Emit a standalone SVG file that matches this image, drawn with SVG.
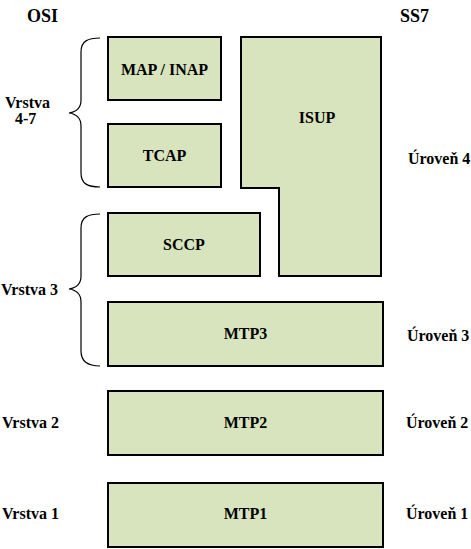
<svg xmlns="http://www.w3.org/2000/svg" width="471" height="549" viewBox="0 0 471 549">
<style>
.box{fill:#d7e4bd;stroke:#000;stroke-width:2}
.t{font-family:"Liberation Serif",serif;font-weight:bold;font-size:16px;fill:#000}
.c{text-anchor:middle}
.h{font-size:18px}
.br{fill:none;stroke:#000;stroke-width:1.2}
</style>
<rect width="471" height="549" fill="#fff"/>
<text class="t h" x="27" y="22">OSI</text>
<text class="t h" x="400" y="22">SS7</text>
<g id="map"><rect class="box" x="108" y="37" width="113" height="63"/><text class="t c" x="164.5" y="75">MAP / INAP</text></g>
<g id="tcap"><rect class="box" x="108" y="124" width="113" height="63"/><text class="t c" x="164.5" y="161">TCAP</text></g>
<g id="isup"><path class="box" d="M241 37H381V276H279V188H241Z"/><text class="t c" x="317" y="123">ISUP</text></g>
<g id="sccp"><rect class="box" x="108" y="213" width="152" height="63"/><text class="t c" x="184" y="250">SCCP</text></g>
<g id="mtp3"><rect class="box" x="108" y="302" width="275" height="64"/><text class="t c" x="245.5" y="339">MTP3</text></g>
<g id="mtp2"><rect class="box" x="108" y="391" width="275" height="64"/><text class="t c" x="245.5" y="428">MTP2</text></g>
<g id="mtp1"><rect class="box" x="108" y="483" width="275" height="64"/><text class="t c" x="245.5" y="519">MTP1</text></g>
<g id="braces">
<path class="br" d="M100 38C88 38 81 41 81 52V100C81 108 76 112 69 113C76 114 81 118 81 126V173C81 184 88 187 100 187"/>
<path class="br" d="M100 214C88 214 81 217 81 228V276C81 284 76 288 69 289C76 290 81 294 81 302V351C81 362 88 366 100 366"/>
</g>
<text class="t" x="5" y="108">Vrstva</text>
<text class="t" x="15" y="124">4-7</text>
<text class="t" x="1" y="295">Vrstva 3</text>
<text class="t" x="2" y="428">Vrstva 2</text>
<text class="t" x="2" y="519">Vrstva 1</text>
<text class="t" x="408" y="164">Úroveň 4</text>
<text class="t" x="407" y="341">Úroveň 3</text>
<text class="t" x="406" y="428">Úroveň 2</text>
<text class="t" x="406" y="519">Úroveň 1</text>
</svg>
